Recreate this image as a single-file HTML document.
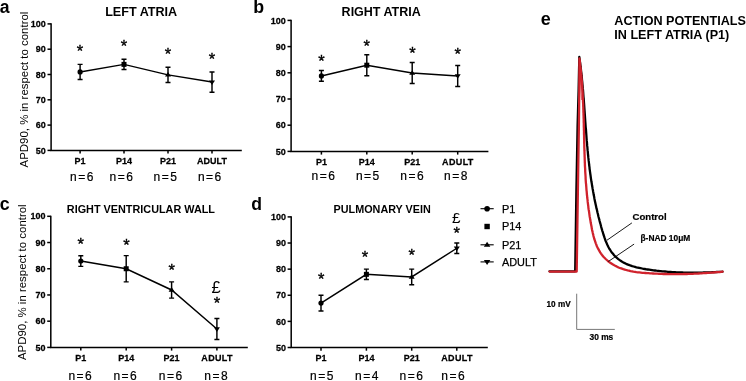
<!DOCTYPE html>
<html><head><meta charset="utf-8"><style>
html,body{margin:0;padding:0;background:#fff;overflow:hidden}
svg{display:block;will-change:transform}
text{font-family:"Liberation Sans", sans-serif;fill:#000}
.hv{stroke:#000;stroke-width:0.25px}
.hv2{stroke:#000;stroke-width:0.2px}
</style></head><body>
<svg width="746" height="381" viewBox="0 0 746 381">
<rect width="746" height="381" fill="#fff"/>
<path d="M51.1 23.3V150.4H241.8" fill="none" stroke="#000" stroke-width="1.5"/>
<path d="M47.5 150.4H51.1" stroke="#000" stroke-width="1.5"/>
<text transform="translate(45.8 153.53) scale(1 1.08)" text-anchor="end" font-weight="bold" font-size="9" class="hv">50</text>
<path d="M47.5 125.1H51.1" stroke="#000" stroke-width="1.5"/>
<text transform="translate(45.8 128.23) scale(1 1.08)" text-anchor="end" font-weight="bold" font-size="9" class="hv">60</text>
<path d="M47.5 99.8H51.1" stroke="#000" stroke-width="1.5"/>
<text transform="translate(45.8 102.93) scale(1 1.08)" text-anchor="end" font-weight="bold" font-size="9" class="hv">70</text>
<path d="M47.5 74.5H51.1" stroke="#000" stroke-width="1.5"/>
<text transform="translate(45.8 77.63) scale(1 1.08)" text-anchor="end" font-weight="bold" font-size="9" class="hv">80</text>
<path d="M47.5 49.2H51.1" stroke="#000" stroke-width="1.5"/>
<text transform="translate(45.8 52.33) scale(1 1.08)" text-anchor="end" font-weight="bold" font-size="9" class="hv">90</text>
<path d="M47.5 23.9H51.1" stroke="#000" stroke-width="1.5"/>
<text transform="translate(45.8 27.03) scale(1 1.08)" text-anchor="end" font-weight="bold" font-size="9" class="hv">100</text>
<path d="M80.1 150.4V153.6" stroke="#000" stroke-width="1.5"/>
<text transform="translate(80.1 163.8) scale(1 1.1)" text-anchor="middle" font-weight="bold" font-size="9" class="hv">P1</text>
<path d="M124 150.4V153.6" stroke="#000" stroke-width="1.5"/>
<text transform="translate(124 163.8) scale(1 1.1)" text-anchor="middle" font-weight="bold" font-size="9" class="hv">P14</text>
<path d="M168 150.4V153.6" stroke="#000" stroke-width="1.5"/>
<text transform="translate(168 163.8) scale(1 1.1)" text-anchor="middle" font-weight="bold" font-size="9" class="hv">P21</text>
<path d="M212 150.4V153.6" stroke="#000" stroke-width="1.5"/>
<text transform="translate(212 163.8) scale(1 1.1)" text-anchor="middle" font-weight="bold" font-size="9" class="hv">ADULT</text>
<text x="82.45" y="181.2" text-anchor="middle" font-size="12" letter-spacing="1.5" class="hv2">n=6</text>
<text x="121.95" y="181.2" text-anchor="middle" font-size="12" letter-spacing="1.5" class="hv2">n=6</text>
<text x="166.05" y="181.2" text-anchor="middle" font-size="12" letter-spacing="1.5" class="hv2">n=5</text>
<text x="210.35" y="181.2" text-anchor="middle" font-size="12" letter-spacing="1.5" class="hv2">n=6</text>
<polyline points="80.1,71.97 124,64.38 168,74.88 212,82.09" fill="none" stroke="#000" stroke-width="1.45"/>
<path d="M80.1 64.38V79.56M77.6 64.38H82.6M77.6 79.56H82.6" stroke="#000" stroke-width="1.45" fill="none"/>
<circle cx="80.1" cy="71.97" r="2.6" fill="#000"/>
<path d="M124 59.32V69.44M121.5 59.32H126.5M121.5 69.44H126.5" stroke="#000" stroke-width="1.45" fill="none"/>
<rect x="121.5" y="61.88" width="5" height="5" fill="#000"/>
<path d="M168 67.29V82.47M165.5 67.29H170.5M165.5 82.47H170.5" stroke="#000" stroke-width="1.45" fill="none"/>
<path d="M165 76.58L171 76.58L168 71.98Z" fill="#000"/>
<path d="M212 71.97V92.21M209.5 71.97H214.5M209.5 92.21H214.5" stroke="#000" stroke-width="1.45" fill="none"/>
<path d="M209 80.39L215 80.39L212 84.99Z" fill="#000"/>
<text x="80" y="56.9" text-anchor="middle" font-size="16.5" stroke="#000" stroke-width="0.35">*</text>
<text x="124" y="51.7" text-anchor="middle" font-size="16.5" stroke="#000" stroke-width="0.35">*</text>
<text x="168" y="59.6" text-anchor="middle" font-size="16.5" stroke="#000" stroke-width="0.35">*</text>
<text x="212" y="64.7" text-anchor="middle" font-size="16.5" stroke="#000" stroke-width="0.35">*</text>
<text x="141.2" y="16.1" text-anchor="middle" font-weight="bold" font-size="12.6">LEFT ATRIA</text>
<text transform="translate(28.3 167.4) rotate(-90)" x="0" y="0" font-size="11.45">APD90, % in respect to control</text>
<path d="M291.1 19.8V151.4H488.4" fill="none" stroke="#000" stroke-width="1.5"/>
<path d="M287.5 151.4H291.1" stroke="#000" stroke-width="1.5"/>
<text transform="translate(285.8 154.53) scale(1 1.08)" text-anchor="end" font-weight="bold" font-size="9" class="hv">50</text>
<path d="M287.5 125.2H291.1" stroke="#000" stroke-width="1.5"/>
<text transform="translate(285.8 128.33) scale(1 1.08)" text-anchor="end" font-weight="bold" font-size="9" class="hv">60</text>
<path d="M287.5 99H291.1" stroke="#000" stroke-width="1.5"/>
<text transform="translate(285.8 102.13) scale(1 1.08)" text-anchor="end" font-weight="bold" font-size="9" class="hv">70</text>
<path d="M287.5 72.8H291.1" stroke="#000" stroke-width="1.5"/>
<text transform="translate(285.8 75.93) scale(1 1.08)" text-anchor="end" font-weight="bold" font-size="9" class="hv">80</text>
<path d="M287.5 46.6H291.1" stroke="#000" stroke-width="1.5"/>
<text transform="translate(285.8 49.73) scale(1 1.08)" text-anchor="end" font-weight="bold" font-size="9" class="hv">90</text>
<path d="M287.5 20.4H291.1" stroke="#000" stroke-width="1.5"/>
<text transform="translate(285.8 23.53) scale(1 1.08)" text-anchor="end" font-weight="bold" font-size="9" class="hv">100</text>
<path d="M321.4 151.4V154.6" stroke="#000" stroke-width="1.5"/>
<text transform="translate(321.4 165) scale(1 1.1)" text-anchor="middle" font-weight="bold" font-size="9" class="hv">P1</text>
<path d="M366.8 151.4V154.6" stroke="#000" stroke-width="1.5"/>
<text transform="translate(366.8 165) scale(1 1.1)" text-anchor="middle" font-weight="bold" font-size="9" class="hv">P14</text>
<path d="M412.2 151.4V154.6" stroke="#000" stroke-width="1.5"/>
<text transform="translate(412.2 165) scale(1 1.1)" text-anchor="middle" font-weight="bold" font-size="9" class="hv">P21</text>
<path d="M457.7 151.4V154.6" stroke="#000" stroke-width="1.5"/>
<text transform="translate(457.87 165) scale(1 1.1)" text-anchor="middle" font-weight="bold" font-size="9" class="hv" letter-spacing="0.35">ADULT</text>
<text x="324.05" y="179.9" text-anchor="middle" font-size="12" letter-spacing="1.5" class="hv2">n=6</text>
<text x="368.35" y="179.9" text-anchor="middle" font-size="12" letter-spacing="1.5" class="hv2">n=5</text>
<text x="412.65" y="179.9" text-anchor="middle" font-size="12" letter-spacing="1.5" class="hv2">n=6</text>
<text x="456.45" y="179.9" text-anchor="middle" font-size="12" letter-spacing="1.5" class="hv2">n=8</text>
<polyline points="321.4,75.94 366.8,65.2 412.2,73.06 457.7,75.94" fill="none" stroke="#000" stroke-width="1.45"/>
<path d="M321.4 70.57V81.31M318.9 70.57H323.9M318.9 81.31H323.9" stroke="#000" stroke-width="1.45" fill="none"/>
<circle cx="321.4" cy="75.94" r="2.6" fill="#000"/>
<path d="M366.8 54.72V75.68M364.3 54.72H369.3M364.3 75.68H369.3" stroke="#000" stroke-width="1.45" fill="none"/>
<rect x="364.3" y="62.7" width="5" height="5" fill="#000"/>
<path d="M412.2 62.58V83.54M409.7 62.58H414.7M409.7 83.54H414.7" stroke="#000" stroke-width="1.45" fill="none"/>
<path d="M409.2 74.76L415.2 74.76L412.2 70.16Z" fill="#000"/>
<path d="M457.7 65.46V86.42M455.2 65.46H460.2M455.2 86.42H460.2" stroke="#000" stroke-width="1.45" fill="none"/>
<path d="M454.7 74.24L460.7 74.24L457.7 78.84Z" fill="#000"/>
<text x="321.4" y="66.5" text-anchor="middle" font-size="16.5" stroke="#000" stroke-width="0.35">*</text>
<text x="366.8" y="51.5" text-anchor="middle" font-size="16.5" stroke="#000" stroke-width="0.35">*</text>
<text x="412.4" y="58.8" text-anchor="middle" font-size="16.5" stroke="#000" stroke-width="0.35">*</text>
<text x="457.7" y="59.9" text-anchor="middle" font-size="16.5" stroke="#000" stroke-width="0.35">*</text>
<text x="381.2" y="15.9" text-anchor="middle" font-weight="bold" font-size="12.5">RIGHT ATRIA</text>
<path d="M50.8 215.7V347.4H247.8" fill="none" stroke="#000" stroke-width="1.5"/>
<path d="M47.2 347.4H50.8" stroke="#000" stroke-width="1.5"/>
<text transform="translate(45.5 350.53) scale(1 1.08)" text-anchor="end" font-weight="bold" font-size="9" class="hv">50</text>
<path d="M47.2 321.18H50.8" stroke="#000" stroke-width="1.5"/>
<text transform="translate(45.5 324.31) scale(1 1.08)" text-anchor="end" font-weight="bold" font-size="9" class="hv">60</text>
<path d="M47.2 294.96H50.8" stroke="#000" stroke-width="1.5"/>
<text transform="translate(45.5 298.09) scale(1 1.08)" text-anchor="end" font-weight="bold" font-size="9" class="hv">70</text>
<path d="M47.2 268.74H50.8" stroke="#000" stroke-width="1.5"/>
<text transform="translate(45.5 271.87) scale(1 1.08)" text-anchor="end" font-weight="bold" font-size="9" class="hv">80</text>
<path d="M47.2 242.52H50.8" stroke="#000" stroke-width="1.5"/>
<text transform="translate(45.5 245.65) scale(1 1.08)" text-anchor="end" font-weight="bold" font-size="9" class="hv">90</text>
<path d="M47.2 216.3H50.8" stroke="#000" stroke-width="1.5"/>
<text transform="translate(45.5 219.43) scale(1 1.08)" text-anchor="end" font-weight="bold" font-size="9" class="hv">100</text>
<path d="M80.8 347.4V350.6" stroke="#000" stroke-width="1.5"/>
<text transform="translate(80.8 360.9) scale(1 1.1)" text-anchor="middle" font-weight="bold" font-size="9" class="hv">P1</text>
<path d="M126.2 347.4V350.6" stroke="#000" stroke-width="1.5"/>
<text transform="translate(126.2 360.9) scale(1 1.1)" text-anchor="middle" font-weight="bold" font-size="9" class="hv">P14</text>
<path d="M171.6 347.4V350.6" stroke="#000" stroke-width="1.5"/>
<text transform="translate(171.6 360.9) scale(1 1.1)" text-anchor="middle" font-weight="bold" font-size="9" class="hv">P21</text>
<path d="M216.9 347.4V350.6" stroke="#000" stroke-width="1.5"/>
<text transform="translate(217.07 360.9) scale(1 1.1)" text-anchor="middle" font-weight="bold" font-size="9" class="hv" letter-spacing="0.35">ADULT</text>
<text x="80.85" y="379.7" text-anchor="middle" font-size="12" letter-spacing="1.5" class="hv2">n=6</text>
<text x="125.85" y="379.7" text-anchor="middle" font-size="12" letter-spacing="1.5" class="hv2">n=6</text>
<text x="171.15" y="379.7" text-anchor="middle" font-size="12" letter-spacing="1.5" class="hv2">n=6</text>
<text x="216.65" y="379.7" text-anchor="middle" font-size="12" letter-spacing="1.5" class="hv2">n=8</text>
<polyline points="80.8,261.01 126.2,268.74 171.6,289.98 216.9,329.05" fill="none" stroke="#000" stroke-width="1.45"/>
<path d="M80.8 255.66V266.35M78.3 255.66H83.3M78.3 266.35H83.3" stroke="#000" stroke-width="1.45" fill="none"/>
<circle cx="80.8" cy="261.01" r="2.6" fill="#000"/>
<path d="M126.2 255.63V281.85M123.7 255.63H128.7M123.7 281.85H128.7" stroke="#000" stroke-width="1.45" fill="none"/>
<rect x="123.7" y="266.24" width="5" height="5" fill="#000"/>
<path d="M171.6 281.85V298.11M169.1 281.85H174.1M169.1 298.11H174.1" stroke="#000" stroke-width="1.45" fill="none"/>
<path d="M168.6 291.68L174.6 291.68L171.6 287.08Z" fill="#000"/>
<path d="M216.9 318.56V339.53M214.4 318.56H219.4M214.4 339.53H219.4" stroke="#000" stroke-width="1.45" fill="none"/>
<path d="M213.9 327.35L219.9 327.35L216.9 331.95Z" fill="#000"/>
<text x="80.8" y="249.9" text-anchor="middle" font-size="16.5" stroke="#000" stroke-width="0.35">*</text>
<text x="126.4" y="250.9" text-anchor="middle" font-size="16.5" stroke="#000" stroke-width="0.35">*</text>
<text x="171.7" y="275.6" text-anchor="middle" font-size="16.5" stroke="#000" stroke-width="0.35">*</text>
<text x="216.9" y="309.1" text-anchor="middle" font-size="16.5" stroke="#000" stroke-width="0.35">*</text>
<text x="216" y="292.9" text-anchor="middle" font-family='"Liberation Serif", serif' font-size="16.5">£</text>
<text x="140.9" y="212.8" text-anchor="middle" font-weight="bold" font-size="10.85">RIGHT VENTRICULAR WALL</text>
<text transform="translate(25.9 360.1) rotate(-90)" x="0" y="0" font-size="11.45">APD90, % in respect to control</text>
<path d="M291.2 216.3V347.5H487.8" fill="none" stroke="#000" stroke-width="1.5"/>
<path d="M287.6 347.5H291.2" stroke="#000" stroke-width="1.5"/>
<text transform="translate(285.9 350.63) scale(1 1.08)" text-anchor="end" font-weight="bold" font-size="9" class="hv">50</text>
<path d="M287.6 321.38H291.2" stroke="#000" stroke-width="1.5"/>
<text transform="translate(285.9 324.51) scale(1 1.08)" text-anchor="end" font-weight="bold" font-size="9" class="hv">60</text>
<path d="M287.6 295.26H291.2" stroke="#000" stroke-width="1.5"/>
<text transform="translate(285.9 298.39) scale(1 1.08)" text-anchor="end" font-weight="bold" font-size="9" class="hv">70</text>
<path d="M287.6 269.14H291.2" stroke="#000" stroke-width="1.5"/>
<text transform="translate(285.9 272.27) scale(1 1.08)" text-anchor="end" font-weight="bold" font-size="9" class="hv">80</text>
<path d="M287.6 243.02H291.2" stroke="#000" stroke-width="1.5"/>
<text transform="translate(285.9 246.15) scale(1 1.08)" text-anchor="end" font-weight="bold" font-size="9" class="hv">90</text>
<path d="M287.6 216.9H291.2" stroke="#000" stroke-width="1.5"/>
<text transform="translate(285.9 220.03) scale(1 1.08)" text-anchor="end" font-weight="bold" font-size="9" class="hv">100</text>
<path d="M321 347.5V350.7" stroke="#000" stroke-width="1.5"/>
<text transform="translate(321 360.9) scale(1 1.1)" text-anchor="middle" font-weight="bold" font-size="9" class="hv">P1</text>
<path d="M366.4 347.5V350.7" stroke="#000" stroke-width="1.5"/>
<text transform="translate(366.4 360.9) scale(1 1.1)" text-anchor="middle" font-weight="bold" font-size="9" class="hv">P14</text>
<path d="M411.7 347.5V350.7" stroke="#000" stroke-width="1.5"/>
<text transform="translate(411.7 360.9) scale(1 1.1)" text-anchor="middle" font-weight="bold" font-size="9" class="hv">P21</text>
<path d="M456.8 347.5V350.7" stroke="#000" stroke-width="1.5"/>
<text transform="translate(456.97 360.9) scale(1 1.1)" text-anchor="middle" font-weight="bold" font-size="9" class="hv" letter-spacing="0.35">ADULT</text>
<text x="322.45" y="379.7" text-anchor="middle" font-size="12" letter-spacing="1.5" class="hv2">n=5</text>
<text x="367.45" y="379.7" text-anchor="middle" font-size="12" letter-spacing="1.5" class="hv2">n=4</text>
<text x="411.95" y="379.7" text-anchor="middle" font-size="12" letter-spacing="1.5" class="hv2">n=6</text>
<text x="453.65" y="379.7" text-anchor="middle" font-size="12" letter-spacing="1.5" class="hv2">n=6</text>
<polyline points="321,303.1 366.4,274.36 411.7,276.98 456.8,248.24" fill="none" stroke="#000" stroke-width="1.45"/>
<path d="M321 295.26V310.93M318.5 295.26H323.5M318.5 310.93H323.5" stroke="#000" stroke-width="1.45" fill="none"/>
<circle cx="321" cy="303.1" r="2.6" fill="#000"/>
<path d="M366.4 269.14V279.59M363.9 269.14H368.9M363.9 279.59H368.9" stroke="#000" stroke-width="1.45" fill="none"/>
<rect x="363.9" y="271.86" width="5" height="5" fill="#000"/>
<path d="M411.7 269.14V284.81M409.2 269.14H414.2M409.2 284.81H414.2" stroke="#000" stroke-width="1.45" fill="none"/>
<path d="M408.7 278.68L414.7 278.68L411.7 274.08Z" fill="#000"/>
<path d="M456.8 243.02V253.47M454.3 243.02H459.3M454.3 253.47H459.3" stroke="#000" stroke-width="1.45" fill="none"/>
<path d="M453.8 246.54L459.8 246.54L456.8 251.14Z" fill="#000"/>
<text x="321.3" y="285.2" text-anchor="middle" font-size="16.5" stroke="#000" stroke-width="0.35">*</text>
<text x="365" y="263.1" text-anchor="middle" font-size="16.5" stroke="#000" stroke-width="0.35">*</text>
<text x="411.7" y="260.6" text-anchor="middle" font-size="16.5" stroke="#000" stroke-width="0.35">*</text>
<text x="456.6" y="238.5" text-anchor="middle" font-size="16.5" stroke="#000" stroke-width="0.35">*</text>
<text x="456.3" y="223" text-anchor="middle" font-family='"Liberation Serif", serif' font-size="15.3">£</text>
<text x="382.2" y="212.8" text-anchor="middle" font-weight="bold" font-size="10.8">PULMONARY VEIN</text>
<text x="-0.3" y="12.6" font-weight="bold" font-size="17.6">a</text>
<text x="253.2" y="12.6" font-weight="bold" font-size="17.8">b</text>
<text x="-0.2" y="209.9" font-weight="bold" font-size="17.8">c</text>
<text x="251.3" y="209.7" font-weight="bold" font-size="17.6">d</text>
<text x="540.8" y="24.5" font-weight="bold" font-size="18">e</text>
<path d="M480.5 208.7H493.7" stroke="#000" stroke-width="1.1"/>
<circle cx="487.1" cy="208.7" r="2.81" fill="#000"/>
<text x="501.9" y="213.1" font-size="10.9" class="hv">P1</text>
<rect x="484.4" y="223.8" width="5.4" height="5.4" fill="#000"/>
<text x="501.9" y="230.2" font-size="10.9" class="hv">P14</text>
<path d="M480.5 244.8H493.7" stroke="#000" stroke-width="1.1"/>
<path d="M483.86 246.64L490.34 246.64L487.1 241.67Z" fill="#000"/>
<text x="501.9" y="248.5" font-size="10.9" class="hv">P21</text>
<path d="M480.5 261.9H493.7" stroke="#000" stroke-width="1.1"/>
<path d="M483.86 260.06L490.34 260.06L487.1 265.03Z" fill="#000"/>
<text x="501.9" y="265.6" font-size="10.9" class="hv">ADULT</text>
<text x="614.3" y="24.6" font-weight="bold" font-size="12.6">ACTION POTENTIALS</text>
<text x="614.3" y="38.9" font-weight="bold" font-size="12.6">IN LEFT ATRIA (P1)</text>
<path d="M549.5 271.3L575.2 271.3L576.4 190.0L577.6 125.0L578.6 90.0L579.3 57.0L579.5 58.4L579.7 59.9L579.9 61.3L580.1 62.7L580.3 64.1L580.5 65.6L580.6 67.0L580.8 68.4L581.0 69.8L581.1 71.3L581.3 72.7L581.5 74.1L581.6 75.5L581.8 77.0L581.9 78.4L582.0 79.8L582.2 81.3L582.3 82.7L582.4 84.1L582.6 85.6L582.7 87.0L582.8 88.4L583.0 89.9L583.1 91.3L583.2 92.7L583.3 94.2L583.4 95.6L583.5 97.1L583.7 98.5L583.8 99.9L583.9 101.4L584.0 102.8L584.1 104.2L584.2 105.7L584.3 107.1L584.4 108.6L584.5 110.0L584.6 111.4L584.7 112.9L584.8 114.3L584.9 115.7L585.0 117.2L585.1 118.6L585.2 120.1L585.3 121.5L585.4 122.9L585.5 124.4L585.6 125.8L585.7 127.3L585.9 128.7L586.0 130.1L586.1 131.6L586.2 133.0L586.3 134.4L586.4 135.9L586.5 137.3L586.6 138.8L586.7 140.2L586.9 141.6L587.0 143.1L587.1 144.5L587.2 145.9L587.4 147.4L587.5 148.8L587.6 150.2L587.8 151.7L587.9 153.1L588.0 154.5L588.2 156.0L588.3 157.4L588.5 158.8L588.6 160.2L588.8 161.7L589.0 163.1L589.1 164.5L589.3 166.0L589.5 167.4L589.6 168.8L589.8 170.2L590.0 171.6L590.2 173.1L590.4 174.5L590.6 175.9L590.8 177.3L591.0 178.8L591.2 180.2L591.4 181.6L591.7 183.0L591.9 184.4L592.1 185.8L592.4 187.3L592.6 188.7L592.9 190.1L593.1 191.5L593.4 192.9L593.6 194.3L593.9 195.7L594.2 197.1L594.4 198.5L594.7 200.0L595.0 201.4L595.3 202.8L595.6 204.2L595.9 205.6L596.2 207.0L596.5 208.4L596.9 209.8L597.2 211.2L597.5 212.6L597.9 214.0L598.2 215.4L598.5 216.8L598.9 218.2L599.3 219.6L599.6 221.0L600.0 222.4L600.4 223.8L600.8 225.2L601.1 226.6L601.5 228.0L601.9 229.4L602.3 230.8L602.8 232.2L603.2 233.6L603.6 235.0L604.1 236.4L604.5 237.7L605.0 239.1L605.5 240.5L606.0 241.8L606.6 243.1L607.2 244.5L607.8 245.7L608.4 247.0L609.1 248.3L609.9 249.5L610.6 250.7L611.4 251.9L612.3 253.0L613.2 254.1L614.1 255.2L615.1 256.2L616.1 257.2L617.2 258.2L618.3 259.1L619.4 259.9L620.6 260.7L621.8 261.5L623.0 262.2L624.3 262.9L625.5 263.5L626.8 264.1L628.1 264.7L629.5 265.2L630.8 265.6L632.2 266.1L633.6 266.5L635.0 266.9L636.4 267.3L637.8 267.6L639.2 267.9L640.6 268.2L642.0 268.5L643.5 268.8L644.9 269.0L646.4 269.3L647.8 269.5L649.2 269.7L650.7 269.9L652.1 270.1L653.6 270.3L655.0 270.5L656.5 270.7L657.9 270.8L659.3 271.0L660.8 271.1L662.2 271.3L663.6 271.4L665.1 271.5L666.5 271.6L667.9 271.8L669.4 271.9L670.8 272.0L672.2 272.1L673.7 272.1L675.1 272.2L676.5 272.3L677.9 272.4L679.4 272.4L680.8 272.5L682.2 272.5L683.7 272.6L685.1 272.6L686.5 272.6L688.0 272.6L689.4 272.7L690.8 272.7L692.2 272.7L693.7 272.7L695.1 272.7L696.5 272.7L698.0 272.6L699.4 272.6L700.9 272.6L702.3 272.6L703.7 272.5L705.2 272.5L706.6 272.4L708.1 272.4L709.5 272.3L710.9 272.3L712.4 272.2L713.8 272.2L715.3 272.1L716.7 272.0L718.2 271.9L719.6 271.8L721.1 271.8L722.5 271.7" fill="none" stroke="#000" stroke-width="2.3" stroke-linejoin="round" stroke-linecap="round"/>
<path d="M549.5 271.6L576.7 271.6L577.9 190.0L578.9 125.0L579.3 90.0L579.4 58.5L579.6 60.0L579.8 61.5L580.0 62.9L580.1 64.4L580.3 65.9L580.5 67.3L580.7 68.8L580.8 70.3L581.0 71.7L581.1 73.2L581.3 74.7L581.4 76.2L581.5 77.6L581.6 79.1L581.8 80.6L581.9 82.1L582.0 83.5L582.1 85.0L582.2 86.5L582.3 88.0L582.4 89.5L582.5 90.9L582.6 92.4L582.7 93.9L582.7 95.4L582.8 96.9L582.9 98.4L583.0 99.8L583.0 101.3L583.1 102.8L583.2 104.3L583.2 105.8L583.3 107.3L583.3 108.8L583.4 110.3L583.4 111.8L583.5 113.2L583.5 114.7L583.6 116.2L583.6 117.7L583.7 119.2L583.7 120.7L583.7 122.2L583.8 123.7L583.8 125.2L583.8 126.6L583.9 128.1L583.9 129.6L584.0 131.1L584.0 132.6L584.0 134.1L584.1 135.6L584.1 137.1L584.1 138.6L584.2 140.0L584.2 141.5L584.2 143.0L584.3 144.5L584.3 146.0L584.3 147.5L584.4 149.0L584.4 150.4L584.5 151.9L584.5 153.4L584.6 154.9L584.6 156.4L584.7 157.8L584.7 159.3L584.8 160.8L584.8 162.3L584.9 163.7L584.9 165.2L585.0 166.7L585.1 168.2L585.2 169.6L585.2 171.1L585.3 172.6L585.4 174.0L585.5 175.5L585.6 177.0L585.6 178.4L585.7 179.9L585.8 181.4L585.9 182.8L586.1 184.3L586.2 185.8L586.3 187.2L586.4 188.7L586.5 190.1L586.7 191.6L586.8 193.1L586.9 194.5L587.1 196.0L587.2 197.5L587.4 198.9L587.6 200.4L587.7 201.9L587.9 203.3L588.1 204.8L588.3 206.3L588.4 207.8L588.6 209.2L588.9 210.7L589.1 212.2L589.3 213.7L589.5 215.2L589.7 216.7L590.0 218.1L590.2 219.6L590.5 221.1L590.7 222.6L591.0 224.1L591.3 225.6L591.6 227.1L591.8 228.6L592.1 230.1L592.5 231.6L592.8 233.1L593.2 234.6L593.5 236.1L593.9 237.5L594.3 239.0L594.8 240.4L595.3 241.9L595.8 243.3L596.3 244.6L596.8 246.0L597.4 247.3L598.1 248.7L598.8 249.9L599.5 251.2L600.2 252.4L601.0 253.6L601.9 254.8L602.8 255.9L603.7 257.0L604.7 258.0L605.7 259.0L606.8 260.0L607.9 261.0L609.0 261.9L610.2 262.7L611.4 263.5L612.6 264.3L613.9 265.1L615.2 265.8L616.5 266.4L617.8 267.1L619.2 267.7L620.5 268.2L621.9 268.7L623.3 269.2L624.7 269.6L626.2 270.0L627.6 270.4L629.0 270.7L630.5 271.1L632.0 271.3L633.4 271.6L634.9 271.8L636.4 272.1L637.9 272.3L639.4 272.4L640.9 272.6L642.4 272.8L643.9 272.9L645.4 273.0L646.9 273.1L648.5 273.2L650.0 273.3L651.5 273.4L653.0 273.5L654.4 273.6L655.9 273.7L657.4 273.7L658.9 273.8L660.4 273.9L661.9 273.9L663.4 274.0L664.9 274.0L666.3 274.0L667.8 274.1L669.3 274.1L670.8 274.1L672.2 274.1L673.7 274.1L675.2 274.1L676.7 274.1L678.1 274.1L679.6 274.1L681.1 274.1L682.5 274.1L684.0 274.0L685.5 274.0L686.9 274.0L688.4 273.9L689.9 273.9L691.4 273.8L692.8 273.8L694.3 273.7L695.8 273.6L697.3 273.6L698.7 273.5L700.2 273.4L701.7 273.3L703.2 273.2L704.6 273.1L706.1 273.0L707.6 272.9L709.1 272.8L710.6 272.7L712.1 272.6L713.6 272.5L715.1 272.4L716.6 272.2L718.1 272.1L719.6 272.0L721.1 271.8L722.6 271.7" fill="none" stroke="#d0222c" stroke-width="2.3" stroke-linejoin="round" stroke-linecap="round"/>
<path d="M579.2 60L580.6 60L581.7 100L581.1 100Z" fill="#d0222c"/>
<path d="M631.9 222.9L607 240.2M634.1 244.1L608.3 261.5" stroke="#000" stroke-width="0.9"/>
<text x="632.5" y="219.8" font-weight="bold" font-size="9.6" class="hv2">Control</text>
<text x="640.5" y="240.6" font-weight="bold" font-size="8.4" class="hv2">β-NAD 10μM</text>
<path d="M576.7 293.7V329.4H614.8" fill="none" stroke="#777" stroke-width="1"/>
<text x="546.5" y="306.6" font-weight="bold" font-size="8.2" class="hv2">10 mV</text>
<text x="589.5" y="339.8" font-weight="bold" font-size="8.4" class="hv2">30 ms</text>
</svg>
</body></html>
